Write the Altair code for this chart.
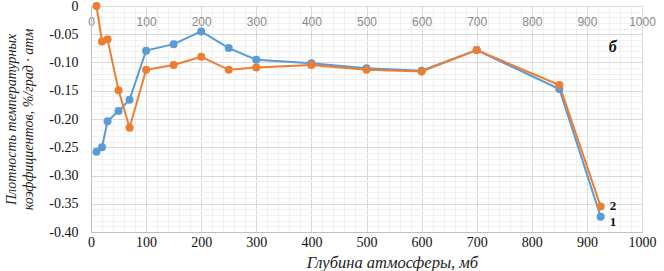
import altair as alt
import pandas as pd

# ---- data ----
pressure = [10, 20, 30, 50, 70, 100, 150, 200, 250, 300, 400, 500, 600, 700, 850, 925]
series1 = [-0.258, -0.250, -0.204, -0.186, -0.166, -0.079, -0.0675, -0.045, -0.0745,
           -0.095, -0.1015, -0.110, -0.1145, -0.078, -0.147, -0.373]
series2 = [0.0, -0.063, -0.059, -0.149, -0.2155, -0.113, -0.1045, -0.090, -0.113,
           -0.109, -0.1045, -0.113, -0.116, -0.078, -0.140, -0.355]
series_names = ["1", "2"]
series_colors = ["#5B9BD5", "#ED7D31"]

x_ticks = [0, 100, 200, 300, 400, 500, 600, 700, 800, 900, 1000]
y_ticks = [0, -0.05, -0.10, -0.15, -0.20, -0.25, -0.30, -0.35, -0.40]
x_minor = list(range(0, 1001, 20))
y_minor = [round(-i * 0.01, 2) for i in range(41)]

x_title = "Глубина атмосферы, мб"
y_title = ["Плотность температурных", "коэффициентов, %/град · атм"]
panel_label = ["б"]
panel_x = [947]
panel_y = [-0.072]

# ---- tables ----
rows = []
for name, vals in zip(series_names, [series1, series2]):
    for p, v in zip(pressure, vals):
        rows.append({"p": p, "v": v, "s": name})
df = pd.DataFrame(rows)
end_df = pd.DataFrame({"p": [pressure[-1], pressure[-1]],
                       "v": [series1[-1], series2[-1]],
                       "s": series_names})
panel_df = pd.DataFrame({"p": panel_x, "v": panel_y, "t": panel_label})

SERIF = "Liberation Serif"
xs = alt.Scale(domain=[0, 1000], nice=False, zero=False)
ys = alt.Scale(domain=[-0.4, 0], nice=False, zero=False)
color = alt.Color("s:N", scale=alt.Scale(domain=series_names, range=series_colors), legend=None)

minor = alt.Chart(df).mark_point(opacity=0).encode(
    x=alt.X("p:Q", scale=xs, axis=alt.Axis(values=x_minor, grid=True, gridColor="#f0f0f0",
                                           labels=False, ticks=False, domain=False, title=None,
                                           orient="bottom")),
    y=alt.Y("v:Q", scale=ys, axis=alt.Axis(values=y_minor, grid=True, gridColor="#f0f0f0",
                                           labels=False, ticks=False, domain=False, title=None,
                                           orient="right")),
)

top_axis = alt.Chart(df).mark_point(opacity=0).encode(
    x=alt.X("p:Q", scale=xs, axis=alt.Axis(orient="top", values=x_ticks, grid=False, ticks=False,
                                           tickSize=0, domain=False, labelPadding=-15,
                                           labelBaseline="middle", labelFont="Liberation Sans",
                                           labelFontSize=12, labelColor="#8a8a8a", format="d",
                                           labelFlush=False, title=None)),
    y=alt.Y("v:Q", scale=ys, axis=None),
)

lines = alt.Chart(df).mark_line(strokeWidth=2).encode(
    x=alt.X("p:Q", scale=xs, axis=alt.Axis(
        orient="bottom", values=x_ticks, grid=True, gridColor="#d9d9d9", ticks=False,
        domain=True, domainColor="#bfbfbf", labelFont=SERIF, labelFontSize=14,
        labelColor="#111111", labelPadding=3, labelFlush=False, format="d",
        title=x_title, titleFont=SERIF, titleFontSize=16.5, titleFontStyle="italic",
        titleFontWeight="normal", titleColor="#222222", titleX=301, titleY=30,
        titleBaseline="middle", titleAlign="center")),
    y=alt.Y("v:Q", scale=ys, axis=alt.Axis(
        orient="left", values=y_ticks, grid=True, gridColor="#d9d9d9", ticks=False,
        domain=True, domainColor="#bfbfbf", labelFont=SERIF, labelFontSize=14,
        labelColor="#111111", labelPadding=13, labelFlush=False,
        labelExpr="datum.value == 0 ? '0' : '-' + format(abs(datum.value), '.2f')",
        title=y_title, titleFont=SERIF, titleFontSize=14, titleFontStyle="italic",
        titleFontWeight="normal", titleColor="#222222", titleX=-87, titleY=113,
        titleBaseline="top", titleAlign="center", titleAngle=270, titleLineHeight=17)),
    color=color,
    detail="s:N",
)

points = alt.Chart(df).mark_circle(size=64, opacity=1).encode(
    x=alt.X("p:Q", scale=xs, axis=None),
    y=alt.Y("v:Q", scale=ys, axis=None),
    color=color,
    order=alt.Order("s:N"),
)

label_style = dict(align="left", baseline="middle", dx=9, font=SERIF, fontSize=13,
                   fontWeight="bold", color="#111111")
label_enc = dict(
    x=alt.X("p:Q", scale=xs, axis=None),
    y=alt.Y("v:Q", scale=ys, axis=None),
    text="s:N",
)
label1 = alt.Chart(end_df).transform_filter(alt.datum.s == "1").mark_text(dy=5, **label_style).encode(**label_enc)
label2 = alt.Chart(end_df).transform_filter(alt.datum.s == "2").mark_text(dy=-1, **label_style).encode(**label_enc)

panel = alt.Chart(panel_df).mark_text(
    align="center", baseline="middle", font=SERIF, fontSize=16, fontWeight="bold",
    fontStyle="italic", color="#111111"
).encode(
    x=alt.X("p:Q", scale=xs, axis=None),
    y=alt.Y("v:Q", scale=ys, axis=None),
    text="t:N",
)

chart = alt.layer(minor, top_axis, lines, points, label1, label2, panel).resolve_axis(
    x="independent", y="independent"
).properties(
    width=551, height=226,
    padding={"left": 91, "top": 6, "right": 22, "bottom": 39},
    autosize=alt.AutoSizeParams(type="none"),
).configure_view(stroke=None).configure(background="white")

chart.save("out.html", embed_options={"renderer": "svg", "actions": False})
